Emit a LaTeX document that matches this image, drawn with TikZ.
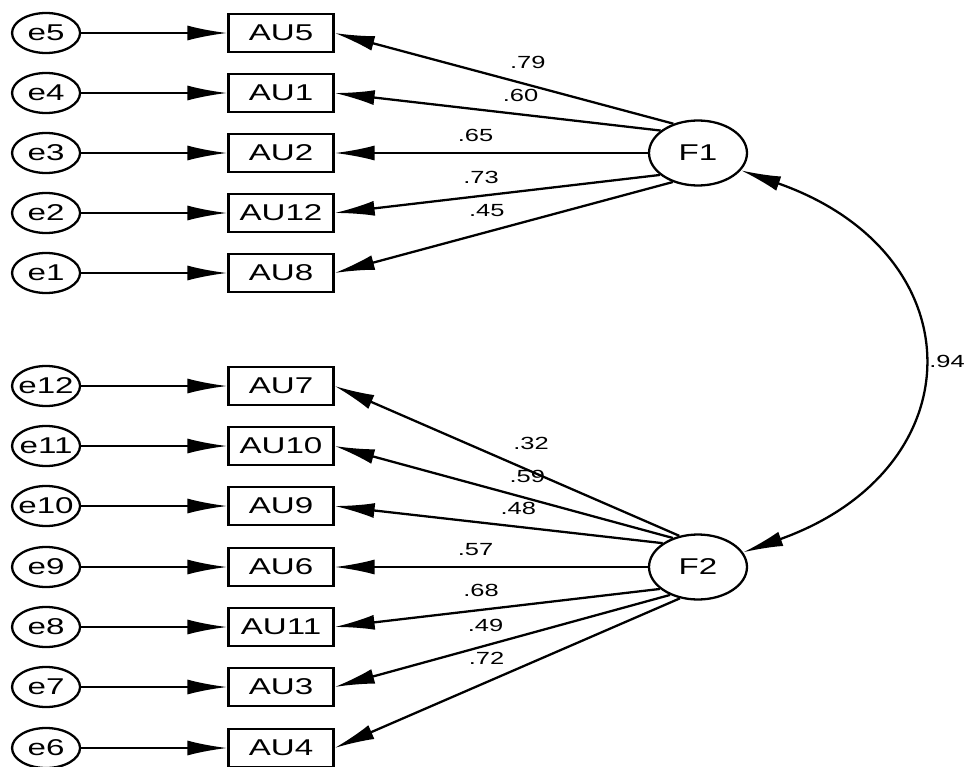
\documentclass[tikz,border=0pt]{standalone}
\usepackage{fontspec}
\setmainfont{Liberation Sans}[FakeStretch=1.45]
\usepackage{tikz}
\usetikzlibrary{arrows.meta, shapes, positioning}
\tikzset{
	every node/.style={
		font=\fontsize{13}{15}\selectfont
	},
	errvar/.style={
		shape=ellipse,
		draw,
		inner xsep=-0.2cm,
		inner ysep=0pt,
		minimum width=1.36cm,
		minimum height=0.8cm
	},
	obsvar/.style={
		shape=rectangle,
		draw,
		minimum width=2.1cm,
		minimum height=0.76cm
	},
	factor/.style={
		shape=ellipse,
		draw,
		inner sep=0pt,
		minimum width=1.96cm,
		minimum height=1.3cm
	},
	coef/.style={
		font=\fontsize{10}{12}\selectfont,
		inner sep=0pt,
		above=#1
	},
	coef/.default=0.24cm,
	corr/.style={
		font=\fontsize{10}{12}\selectfont,
		inner sep=0pt,
		right=#1
	}
}

\begin{document}
\begin{tikzpicture}[x=0.02cm,y=-0.02cm,line width=1.3pt,>={Latex[length=0.8cm,width=0.3cm]},node distance=4.7cm]
	\useasboundingbox (0,0) rectangle (964,767);
	
	\node[factor]         (F1) at (698,153)      {F1};
	\node[factor]         (F2) at (698,567)      {F2};
	
	\node[obsvar]         (AU5) at (281,33)      {AU5};
	\node[obsvar]         (AU1) at (281,93)      {AU1};
	\node[obsvar]         (AU2) at (281,153)     {AU2};
	\node[obsvar]         (AU12) at (281,213)    {AU12};
	\node[obsvar]         (AU8) at (281,273)     {AU8};
	\node[obsvar]         (AU7) at (281,386)     {AU7};
	\node[obsvar]         (AU10) at (281,446)    {AU10};
	\node[obsvar]         (AU9) at (281,506)     {AU9};
	\node[obsvar]         (AU6) at (281,567)     {AU6};
	\node[obsvar]         (AU11) at (281,627)    {AU11};
	\node[obsvar]         (AU3) at (281,687)     {AU3};
	\node[obsvar]         (AU4) at (281,748)     {AU4};
	
	\node[errvar]         (e5) [left of=AU5]     {e5};
	\node[errvar]         (e4) [left of=AU1]     {e4};
	\node[errvar]         (e3) [left of=AU2]     {e3};
	\node[errvar]         (e2) [left of=AU12]    {e2};
	\node[errvar]         (e1) [left of=AU8]     {e1};
	\node[errvar]         (e12) [left of=AU7]    {e12};
	\node[errvar]         (e11) [left of=AU10]   {e11};
	\node[errvar]         (e10) [left of=AU9]    {e10};
	\node[errvar]         (e9) [left of=AU6]     {e9};
	\node[errvar]         (e8) [left of=AU11]    {e8};
	\node[errvar]         (e7) [left of=AU3]     {e7};
	\node[errvar]         (e6) [left of=AU4]     {e6};
	
	\path[->] (e5) edge (AU5)
	(e4) edge (AU1)
	(e3) edge (AU2)
	(e2) edge (AU12)
	(e1) edge (AU8)
	(e12) edge (AU7)
	(e11) edge (AU10)
	(e10) edge (AU9)
	(e9) edge (AU6)
	(e8) edge (AU11)
	(e7) edge (AU3)
	(e6) edge (AU4);
	
	\path[->] (F1.130) edge node[coef=0.30cm, pos=0.43] {.79} (AU5.east)
	(F1.149) edge node[coef=0.24cm, pos=0.43] {.60} (AU1.east)
	(F1.180) edge node[coef=0.20cm, pos=0.55] {.65} (AU2.east)
	(F1.210) edge node[coef=0.22cm, pos=0.55] {.73} (AU12.east)
	(F1.229) edge node[coef=0.28cm, pos=0.55] {.45} (AU8.east);
	
	\path[->] (F2.121) edge node[coef=0.42cm, pos=0.43] {.32} (AU7.east)
	(F2.131) edge node[coef=0.30cm, pos=0.43] {.59} (AU10.east)
	(F2.146) edge node[coef=0.22cm, pos=0.44] {.48} (AU9.east)
	(F2.180) edge node[coef=0.20cm, pos=0.55] {.57} (AU6.east)
	(F2.210) edge node[coef=0.24cm, pos=0.55] {.68} (AU11.east)
	(F2.225) edge node[coef=0.26cm, pos=0.55] {.49} (AU3.east)
	(F2.240) edge node[coef=0.34cm, pos=0.56] {.72} (AU4.east);
	
	\draw[<->] (F1.338) .. controls (977,253) and (977,469) .. node[corr=0.2cm] {.94} (F2.18);
\end{tikzpicture}
\end{document}
